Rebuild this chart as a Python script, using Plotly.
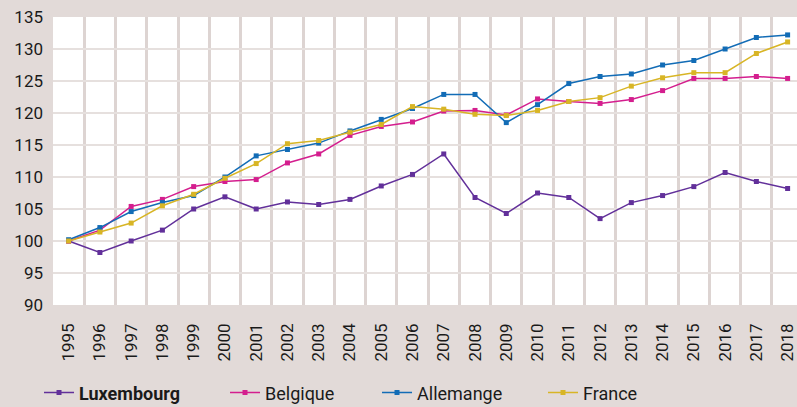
import plotly.graph_objects as go

years = [str(y) for y in range(1995, 2019)]
luxembourg = [100.0, 98.2, 100.0, 101.7, 105.0, 106.9, 105.0, 106.1, 105.7, 106.5, 108.6, 110.4,
              113.6, 106.8, 104.3, 107.5, 106.8, 103.5, 106.0, 107.1, 108.5, 110.7, 109.3, 108.2]
belgique = [100.0, 101.7, 105.4, 106.5, 108.5, 109.3, 109.6, 112.2, 113.6, 116.5, 117.9, 118.6,
            120.3, 120.4, 119.7, 122.2, 121.8, 121.5, 122.1, 123.5, 125.4, 125.4, 125.7, 125.4]
allemagne = [100.2, 102.1, 104.6, 106.0, 107.1, 110.0, 113.3, 114.3, 115.3, 117.2, 119.0, 120.7,
             122.9, 122.9, 118.5, 121.3, 124.6, 125.7, 126.1, 127.5, 128.2, 130.0, 131.8, 132.2]
france = [100.0, 101.4, 102.8, 105.5, 107.3, 109.8, 112.1, 115.2, 115.7, 117.0, 118.2, 121.0,
          120.6, 119.8, 119.6, 120.4, 121.8, 122.4, 124.2, 125.5, 126.3, 126.3, 129.3, 131.1]
yticks = [90, 95, 100, 105, 110, 115, 120, 125, 130, 135]

series = [
    ("<b>Luxembourg</b>", luxembourg, "#62309a", "legend", -0.0188),
    ("Belgique", belgique, "#d41e8e", "legend2", 0.2312),
    ("Allemange", allemagne, "#126cb6", "legend3", 0.4355),
    ("France", france, "#d8b525", "legend4", 0.6586),
]

bg = "#e2dad8"
fig = go.Figure()
legends = {}
for name, vals, col, lg, lx in series:
    fig.add_trace(go.Scatter(
        x=years, y=vals, name=name, mode="lines+markers",
        line=dict(color=col, width=1.5),
        marker=dict(symbol="square", size=5, color=col),
        legend=lg,
    ))
    legends[lg] = dict(orientation="h", x=lx, xanchor="left", y=-0.305, yanchor="middle",
                       bgcolor="rgba(0,0,0,0)", font=dict(size=18), itemwidth=30)

fig.update_layout(
    width=797, height=407,
    paper_bgcolor=bg, plot_bgcolor="white",
    margin=dict(l=53, r=0, t=17, b=102, autoexpand=False),
    font=dict(family="Roboto", size=17, color="#1a1a1a"),
    showlegend=True,
    **legends,
)
fig.update_xaxes(
    type="category", range=[-0.5, 23.3], tickson="boundaries", automargin=False,
    showgrid=True, gridcolor="#ddd4d2", gridwidth=3,
    tickangle=-90, ticks="", ticklabelstandoff=14,
    showline=False, zeroline=False, fixedrange=True,
)
fig.update_yaxes(
    range=[90, 135], tickvals=yticks, ticktext=[str(v) for v in yticks], automargin=False,
    showgrid=True, gridcolor="#e6e0de", gridwidth=2,
    ticks="", ticklabelstandoff=9, zeroline=False, showline=False,
)

fig.write_html("out.html", config={"displayModeBar": False},
               post_script="document.body.style.margin='0';document.body.style.overflow='hidden';")
